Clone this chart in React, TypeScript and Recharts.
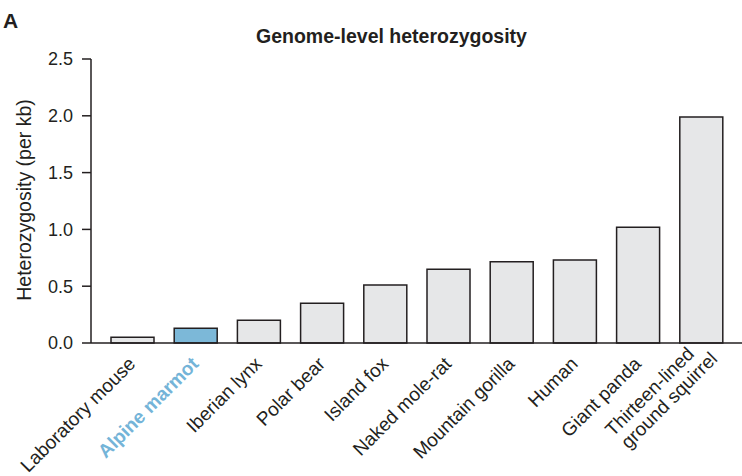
import React from "react";
import { BarChart, Bar, XAxis, YAxis, Cell } from "recharts";

const species = [
  "Laboratory mouse",
  "Alpine marmot",
  "Iberian lynx",
  "Polar bear",
  "Island fox",
  "Naked mole-rat",
  "Mountain gorilla",
  "Human",
  "Giant panda",
  "Thirteen-lined ground squirrel",
];
const heterozygosity = [0.05, 0.13, 0.2, 0.35, 0.51, 0.65, 0.715, 0.73, 1.02, 1.99];
const yTicks = [0, 0.5, 1.0, 1.5, 2.0, 2.5];
const highlight = "Alpine marmot";

const data = species.map((s, i) => ({ name: s, value: heterozygosity[i] }));

const FONT = "'Liberation Sans', Arial, Helvetica, sans-serif";
const TEXT = "#231f20";
const BLUE_FILL = "#7cb8d8";
const BLUE_TEXT = "#74b4d8";
const GRAY_FILL = "#e6e7e8";

const XTick = (props: any) => {
  const { x, y, payload } = props;
  const name: string = payload.value;
  const isHi = name === highlight;
  const color = isHi ? BLUE_TEXT : TEXT;
  const weight = isHi ? "bold" : "normal";
  if (name === "Thirteen-lined ground squirrel") {
    return (
      <g transform={`translate(${x + 10},${y + 10}) rotate(-45)`}>
        <text x={-13} y={-10} textAnchor="end" fill={color} fontSize={19} fontFamily={FONT} fontWeight={weight}>
          Thirteen-lined
        </text>
        <text x={0} y={10} textAnchor="end" fill={color} fontSize={19} fontFamily={FONT} fontWeight={weight}>
          ground squirrel
        </text>
      </g>
    );
  }
  return (
    <g transform={`translate(${x + 4},${y + 22}) rotate(-45)`}>
      <text x={0} y={0} textAnchor="end" fill={color} fontSize={19} fontFamily={FONT} fontWeight={weight}>
        {name}
      </text>
    </g>
  );
};

const YLabel = () => (
  <text
    x={31}
    y={200}
    transform="rotate(-90 31 200)"
    textAnchor="middle"
    fill={TEXT}
    fontSize={19.5}
    fontFamily={FONT}
  >
    Heterozygosity (per kb)
  </text>
);

export default function App() {
  return (
    <div style={{ position: "absolute", left: 0, top: 0, width: 742, height: 476, background: "#fff" }}>
      <svg
        width={742}
        height={60}
        style={{ position: "absolute", left: 0, top: 0, pointerEvents: "none" }}
      >
        <text x={3} y={28} fontSize={21} fontWeight="bold" fontFamily={FONT} fill={TEXT}>
          A
        </text>
        <text x={391.5} y={43} textAnchor="middle" fontSize={19.5} fontWeight="bold" fontFamily={FONT} fill={TEXT}>
          Genome-level heterozygosity
        </text>
      </svg>
      <BarChart
        width={742}
        height={476}
        data={data}
        margin={{ top: 59, right: 0, bottom: 0, left: 0 }}
        barCategoryGap={10}
      >
        <XAxis
          xAxisId="top"
          orientation="top"
          dataKey="name"
          height={0}
          tick={false}
          tickLine={false}
          axisLine={{ stroke: TEXT, strokeWidth: 1.5 }}
        />
        <XAxis
          dataKey="name"
          height={133}
          interval={0}
          tickLine={false}
          tickSize={0}
          tickMargin={0}
          padding={{ left: 10, right: 9 }}
          axisLine={{ stroke: TEXT, strokeWidth: 1.5 }}
          tick={<XTick />}
        />
        <YAxis
          width={91}
          domain={[0, 2.5]}
          ticks={yTicks}
          interval={0}
          tickSize={9}
          tickMargin={9}
          tickFormatter={(v: number) => v.toFixed(1)}
          axisLine={{ stroke: TEXT, strokeWidth: 1.5 }}
          tickLine={{ stroke: TEXT, strokeWidth: 1.5 }}
          tick={{ fill: TEXT, fontSize: 18, fontFamily: FONT }}
          label={<YLabel />}
        />
        <Bar dataKey="value" isAnimationActive={false} stroke={TEXT} strokeWidth={1.5}>
          {data.map((d) => (
            <Cell key={d.name} fill={d.name === highlight ? BLUE_FILL : GRAY_FILL} />
          ))}
        </Bar>
      </BarChart>
    </div>
  );
}
